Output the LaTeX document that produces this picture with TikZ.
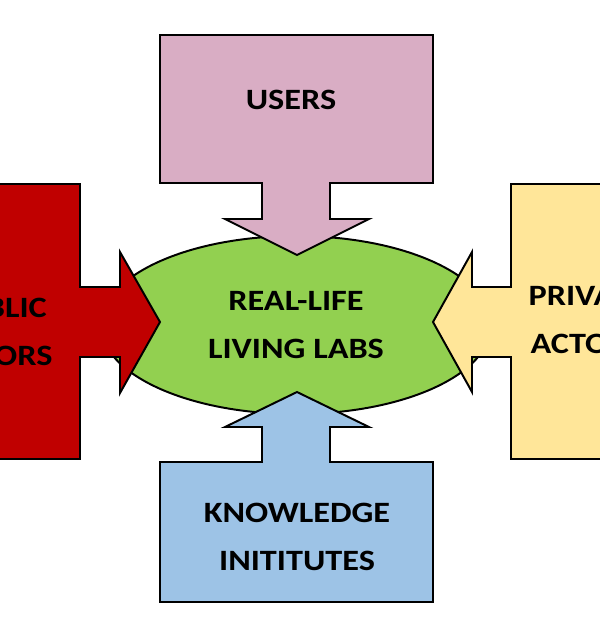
\documentclass[tikz,border=0pt]{standalone}
\usepackage{fontspec}
\newfontfamily\calibri[FakeStretch=1.16]{Carlito}
\usetikzlibrary{shapes.geometric}
\definecolor{userpink}{RGB}{217,173,196}
\definecolor{publicred}{RGB}{192,0,0}
\definecolor{privateyellow}{RGB}{255,230,153}
\definecolor{knowblue}{RGB}{157,195,230}
\definecolor{labgreen}{RGB}{146,208,80}
\begin{document}
\begin{tikzpicture}[x=0.025cm, y=-0.025cm, line join=miter,
		blockline/.style={draw=black, line width=1.4pt},
		lbl/.style={font=\calibri\bfseries\fontsize{21}{34}\selectfont, align=center}]
			\useasboundingbox (0,0) rectangle (600,640);
			\clip (0,0) rectangle (600,640);

			% Centre
			\node[blockline, ellipse, fill=labgreen, minimum width=9.75cm, minimum height=4.45cm, inner sep=0pt, lbl] (lab) at (296,325) {REAL-LIFE\\LIVING LABS};

			% Users (top)
			\draw[blockline, fill=userpink] (160,35) -- (433,35) -- (433,183) -- (330,183) -- (330,219) -- (369,219) -- (297,255) -- (225,219) -- (262,219) -- (262,183) -- (160,183) -- cycle;
			\node[lbl] (users) at (291,100) {USERS};

			% Public actors (left)
			\draw[blockline, fill=publicred] (-70,184) -- (80,184) -- (80,287) -- (120,287) -- (120,252) -- (160,322) -- (120,393) -- (120,357) -- (80,357) -- (80,459) -- (-70,459) -- cycle;
			\node[lbl] (public) at (-4,332) {PUBLIC\\ACTORS};

			% Private actors (right)
			\draw[blockline, fill=privateyellow] (670,184) -- (511,184) -- (511,287) -- (472,287) -- (472,252) -- (433,322) -- (472,392) -- (472,357) -- (511,357) -- (511,459) -- (670,459) -- cycle;
			\node[lbl] (private) at (587,320) {PRIVATE\\ACTORS};

			% Knowledge institutes (bottom)
			\draw[blockline, fill=knowblue] (160,602) -- (433,602) -- (433,462) -- (330,462) -- (330,427) -- (369,427) -- (297,392) -- (225,427) -- (262,427) -- (262,462) -- (160,462) -- cycle;
			\node[lbl] (know) at (297,537) {KNOWLEDGE\\INITITUTES};
		\end{tikzpicture}
\end{document}
